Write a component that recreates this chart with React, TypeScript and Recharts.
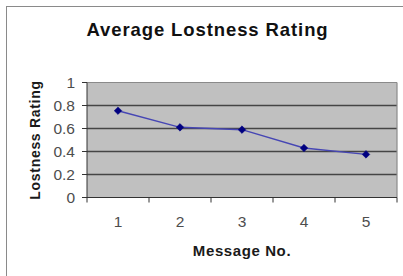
import React from "react";
import {
  LineChart,
  Line,
  XAxis,
  YAxis,
  CartesianGrid,
  ReferenceLine,
} from "recharts";

const messages = [1, 2, 3, 4, 5];
const lostness = [0.755, 0.61, 0.59, 0.43, 0.375];
const yTicks = [0, 0.2, 0.4, 0.6, 0.8, 1];
const xBounds = [0.5, 1.5, 2.5, 3.5, 4.5, 5.5];

const data = messages.map((m, i) => ({ message: m, rating: lostness[i] }));

const FONT = '"Liberation Sans", Arial, sans-serif';

function Diamond(props: any) {
  const { cx, cy } = props;
  if (cx == null || cy == null) return null;
  const r = 3.8;
  return (
    <path
      d={`M${cx},${cy - r} L${cx + r},${cy} L${cx},${cy + r} L${cx - r},${cy} Z`}
      fill="#000080"
      stroke="#000080"
      strokeWidth={0.5}
    />
  );
}

// tick marks sit on the category boundaries, labels go in the middle of each band
function BandTick(props: any) {
  const { x, y, payload, width } = props;
  const v = payload.value;
  if (v >= messages.length + 0.5) return <g />;
  const half = (width || 310) / (messages.length * 2);
  return (
    <text
      x={x + half}
      y={y}
      dy="0.95em"
      textAnchor="middle"
      fill="#4d4d4d"
      fontSize={15.5}
      fontFamily={FONT}
    >
      {v + 0.5}
    </text>
  );
}

export default function App() {
  return (
    <div
      style={{
        position: "fixed",
        left: 0,
        top: 0,
        width: 403,
        height: 276,
        background: "#fff",
        overflow: "hidden",
      }}
    >
      <div
        style={{
          position: "absolute",
          left: 6,
          top: 6,
          width: 420,
          height: 300,
          border: "1.5px solid #8a8a8a",
        }}
      />
      <div
        style={{
          position: "absolute",
          left: 0,
          top: 20,
          width: 415,
          textAlign: "center",
          fontFamily: FONT,
          fontWeight: "bold",
          fontSize: 18.5,
          letterSpacing: 0.9,
          color: "#111",
          lineHeight: "20px",
        }}
      >
        Average Lostness Rating
      </div>
      <div style={{ position: "absolute", left: 0, top: 0 }}>
        <LineChart
          width={403}
          height={276}
          data={data}
          margin={{ top: 82.5, right: 6, left: 0, bottom: 0 }}
        >
          <CartesianGrid
            fill="#c0c0c0"
            vertical={false}
            stroke="#454545"
            strokeWidth={1.6}
            horizontalValues={[0.2, 0.4, 0.6, 0.8]}
          />
          <ReferenceLine y={1} stroke="#8a8a8a" strokeWidth={1.2} />
          <ReferenceLine x={5.5} stroke="#8a8a8a" strokeWidth={1.2} />
          <XAxis
            dataKey="message"
            type="number"
            domain={[0.5, 5.5]}
            ticks={xBounds}
            interval={0}
            height={78.5}
            tickSize={5}
            tickMargin={10}
            stroke="#333"
            tick={<BandTick />}
            label={{
              value: "Message No.",
              content: (p: any) => {
                const vb = p.viewBox;
                return (
                  <text
                    x={vb.x + vb.width / 2}
                    y={256}
                    textAnchor="middle"
                    fontFamily={FONT}
                    fontWeight="bold"
                    fontSize={15}
                    letterSpacing={0.6}
                    fill="#1a1a1a"
                  >
                    Message No.
                  </text>
                );
              },
            }}
          />
          <YAxis
            domain={[0, 1]}
            ticks={yTicks}
            interval={0}
            width={87}
            tickSize={5}
            tickMargin={7}
            stroke="#333"
            tick={{ fill: "#4d4d4d", fontSize: 15.5, fontFamily: FONT }}
            label={{
              value: "Lostness Rating",
              content: (p: any) => {
                const vb = p.viewBox;
                const cy = vb.y + vb.height / 2;
                return (
                  <text
                    x={35}
                    y={cy}
                    transform={`rotate(-90 35 ${cy})`}
                    textAnchor="middle"
                    dominantBaseline="central"
                    fontFamily={FONT}
                    fontWeight="bold"
                    fontSize={14}
                    letterSpacing={0.7}
                    fill="#1a1a1a"
                  >
                    Lostness Rating
                  </text>
                );
              },
            }}
          />
          <Line
            dataKey="rating"
            stroke="#4646b4"
            strokeWidth={1.5}
            dot={<Diamond />}
            activeDot={false}
            isAnimationActive={false}
          />
        </LineChart>
      </div>
    </div>
  );
}
